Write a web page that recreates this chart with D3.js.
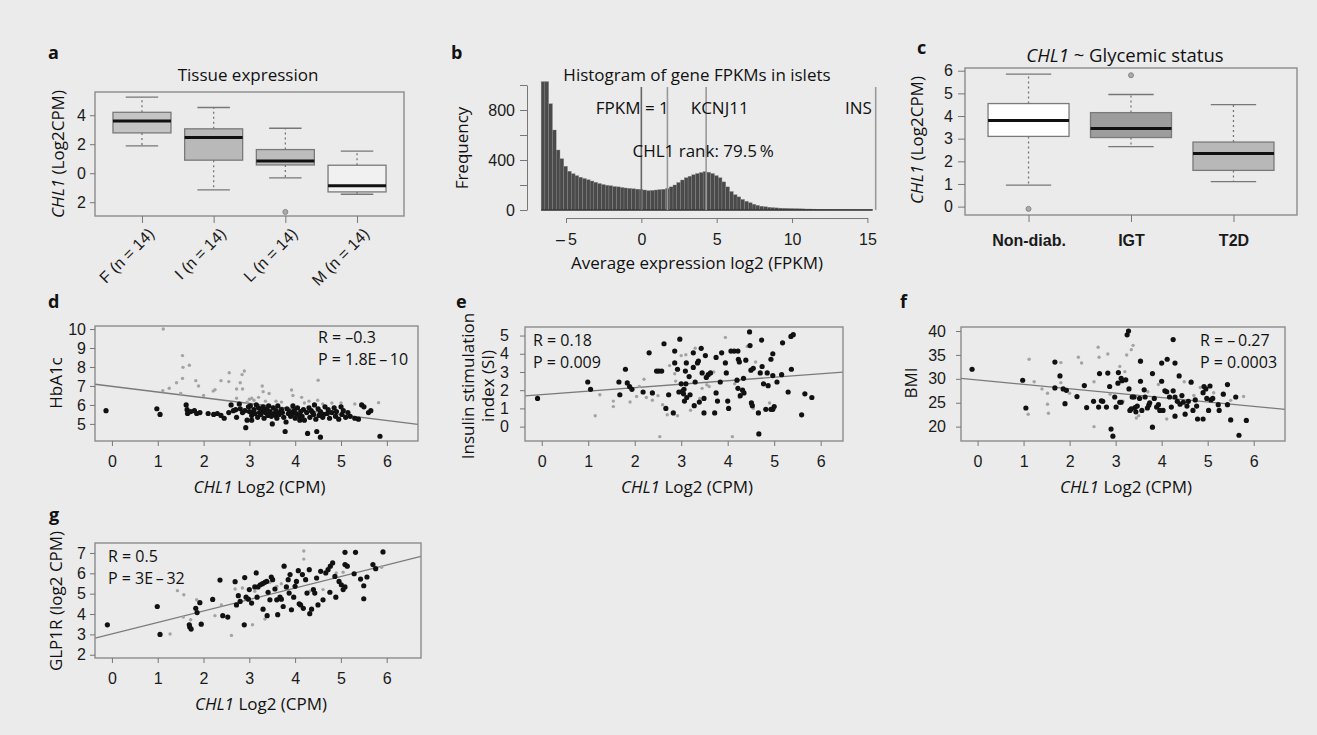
<!DOCTYPE html>
<html>
<head>
<meta charset="utf-8">
<script src="https://cdn.jsdelivr.net/npm/d3@7"></script>
<style>
  body { margin: 0; background: #fff; }
  svg { display: block; font-family: "Open Sans", sans-serif; }
  .tick text { font-size: 16px; fill: #1a1a1a; }
  .tick line { stroke: #777; }
  .domain { stroke: #777; }
</style>
</head>
<body>
<svg id="fig" width="1317" height="735"></svg>
<script>
// ---- data ----

// a: tissue expression, [lower whisker, Q1, median, Q3, upper whisker]
const tissueGroups = ["F (n = 14)", "I (n = 14)", "L (n = 14)", "M (n = 14)"];
const tissueStats = [[1.88, 2.78, 3.6, 4.2, 5.25], [-1.15, 0.9, 2.46, 3.06, 4.53],
  [-0.32, 0.57, 0.85, 1.63, 3.1], [-1.45, -1.29, -0.87, 0.55, 1.52]];
const tissueOutliers = [[], [], [-2.67], []];

// b: histogram of gene FPKMs (bins of 0.25 starting at -6.65)
const histStart = -6.65;
const histBin = 0.25;
const histFreq = [1027, 1027, 850, 640, 480, 410, 350, 310, 290, 275, 262, 252, 242, 232,
  222, 212, 204, 198, 194, 188, 185, 180, 176, 173, 170, 167, 165, 160, 155, 157, 160,
  163, 166, 172, 185, 200, 220, 240, 258, 270, 282, 292, 300, 307, 302, 292, 275, 258,
  225, 185, 148, 122, 105, 85, 70, 58, 46, 37, 30, 26, 22, 19, 17, 15, 14, 13, 12, 11,
  10, 9, 8, 8, 7, 6, 6, 5, 5, 4, 4, 4, 3, 3, 3, 3, 2, 2, 2, 2];
const markerNames = ["FPKM = 1", "CHL1", "KCNJ11", "INS"];
const markerX = [0, 1.73, 4.3, 15.55];

// c: glycemic status
const glyGroups = ["Non-diab.", "IGT", "T2D"];
const glyStats = [[0.95, 3.1, 3.8, 4.55, 5.85], [2.65, 3.05, 3.45, 4.15, 4.95],
  [1.1, 1.6, 2.35, 2.85, 4.5]];
const glyOutliers = [[-0.1], [5.8], []];

// d: HbA1c vs CHL1
const hbDark = [[-0.13,5.7],[0.98,5.8],[1.05,5.5],[1.62,6.0],[1.64,5.75],[1.65,5.55],[1.72,5.65],
  [1.8,5.7],[1.85,5.55],[1.92,5.6],[2.1,5.55],[2.22,5.5],[2.3,5.55],[2.38,5.45],[2.45,5.3],
  [2.55,5.6],[2.6,6.0],[2.65,5.7],[2.7,5.75],[2.72,5.35],[2.78,6.05],[2.8,5.8],[2.85,5.6],
  [2.9,5.7],[2.92,4.8],[2.95,5.2],[2.98,5.9],[3.0,5.65],[3.02,5.95],[3.05,5.45],[3.05,5.2],
  [3.08,5.6],[3.1,5.75],[3.12,5.55],[3.15,6.0],[3.18,5.35],[3.2,5.85],[3.22,5.6],[3.25,5.5],
  [3.28,5.7],[3.3,5.9],[3.32,5.3],[3.33,5.75],[3.35,5.6],[3.38,5.8],[3.4,5.45],[3.42,5.95],
  [3.45,5.65],[3.47,5.55],[3.48,5.4],[3.5,5.0],[3.52,5.85],[3.55,5.55],[3.58,5.7],[3.58,5.45],
  [3.6,5.3],[3.62,5.95],[3.65,5.5],[3.68,5.65],[3.7,5.75],[3.72,5.6],[3.75,5.35],[3.78,4.6],
  [3.8,5.1],[3.82,5.8],[3.85,5.55],[3.88,5.65],[3.9,5.4],[3.93,5.5],[3.95,5.95],[3.98,5.7],
  [4.0,5.3],[4.02,5.55],[4.05,5.85],[4.08,5.45],[4.1,5.2],[4.12,5.65],[4.15,5.4],[4.18,5.75],
  [4.2,5.2],[4.25,5.6],[4.27,4.5],[4.3,5.85],[4.32,5.35],[4.35,5.7],[4.38,5.6],[4.4,5.5],
  [4.42,6.0],[4.45,5.25],[4.47,4.6],[4.5,5.8],[4.52,5.45],[4.55,4.3],[4.55,5.65],[4.6,5.35],
  [4.62,5.5],[4.65,5.9],[4.7,5.55],[4.72,5.75],[4.75,5.3],[4.8,5.6],[4.85,5.85],[4.88,5.4],
  [4.9,5.65],[4.95,5.25],[5.0,5.9],[5.02,5.5],[5.05,5.7],[5.1,5.35],[5.15,5.6],[5.2,5.4],
  [5.3,5.3],[5.38,5.25],[5.45,6.0],[5.5,5.9],[5.6,5.6],[5.65,5.7],[5.85,4.35]];
const hbGray = [[1.12,10.0],[1.54,8.6],[1.55,7.98],[1.69,8.09],[1.54,7.4],[1.41,7.17],[1.25,6.88],
  [1.11,6.75],[1.83,7.28],[1.89,7.0],[2.21,6.73],[2.25,6.8],[2.38,7.28],[2.56,7.7],[2.55,7.23],
  [2.72,6.84],[2.8,7.17],[2.84,7.6],[2.89,7.79],[2.85,6.84],[2.72,6.35],[3.0,6.3],[3.05,6.35],
  [3.1,6.25],[3.28,7.0],[3.3,6.7],[3.43,6.6],[3.58,6.2],[3.92,6.79],[4.14,6.4],[4.5,7.3],
  [4.49,6.25],[4.6,6.05],[4.8,6.1],[5.0,6.1],[5.82,6.12],[3.2,6.4],[3.7,6.15],[3.95,6.5],
  [4.3,6.2],[2.95,6.15],[3.35,6.2],[4.2,6.1],[5.3,6.05],[1.5,6.6],[2.0,6.5]];
const hbFit = [6.98, -0.30];

// e: insulin stimulation index vs CHL1
const siDark = [[-0.09,1.55],[0.99,2.45],[1.05,2.05],[1.66,2.45],[1.68,1.75],[1.8,3.15],[1.84,2.4],
  [1.89,2.2],[1.94,2.05],[2.18,1.9],[2.31,4.05],[2.38,1.85],[2.47,3.05],[2.52,3.05],[2.58,3.05],
  [2.63,4.55],[2.67,1.0],[2.73,1.75],[2.83,0.75],[2.86,4.15],[2.86,3.5],[2.92,3.15],[2.97,4.8],
  [2.95,1.9],[3.0,2.35],[3.03,1.95],[3.05,1.8],[3.06,2.05],[3.07,1.4],[3.09,3.05],[3.1,2.35],
  [3.12,1.6],[3.11,3.5],[3.17,2.75],[3.19,1.75],[3.26,4.05],[3.26,3.25],[3.28,1.15],[3.3,2.45],
  [3.35,3.5],[3.37,3.6],[3.39,1.35],[3.43,4.3],[3.45,2.95],[3.49,0.75],[3.49,1.55],[3.52,3.9],
  [3.54,2.7],[3.58,2.85],[3.63,2.95],[3.72,0.75],[3.75,3.8],[3.75,1.85],[3.78,1.4],[3.84,2.45],
  [3.87,4.05],[3.95,3.5],[3.97,2.95],[4.0,1.4],[4.02,1.0],[4.07,4.15],[4.14,4.15],[4.22,4.15],
  [4.2,2.55],[4.22,2.1],[4.23,3.7],[4.25,3.55],[4.27,1.7],[4.32,2.0],[4.35,1.85],[4.34,2.65],
  [4.39,3.65],[4.47,5.2],[4.48,4.45],[4.5,3.1],[4.55,3.2],[4.51,1.3],[4.53,1.15],[4.66,0.75],
  [4.67,-0.4],[4.7,2.95],[4.74,3.3],[4.73,4.75],[4.77,2.35],[4.82,0.95],[4.85,2.95],[4.87,2.25],
  [4.93,0.95],[4.97,0.95],[5.0,1.1],[4.93,3.7],[4.97,4.0],[4.97,2.8],[5.06,2.45],[5.18,4.6],
  [5.16,2.85],[5.3,1.9],[5.37,3.15],[5.36,4.95],[5.41,5.05],[5.59,0.65],[5.66,1.8],[5.81,1.6]];
const siGray = [[1.15,0.6],[1.25,1.75],[1.54,1.4],[1.54,1.1],[1.9,1.35],[2.04,1.65],[2.1,2.2],
  [2.25,1.6],[2.38,1.45],[2.54,-0.55],[2.5,1.7],[2.6,1.2],[2.7,0.65],[2.86,2.9],[2.88,2.5],
  [2.92,0.6],[3.0,3.9],[3.1,3.95],[3.2,0.9],[3.4,1.55],[3.45,2.1],[3.55,2.3],[3.6,2.2],
  [3.95,4.9],[4.1,-0.55],[4.15,2.35],[4.25,1.6],[4.42,4.4],[4.6,3.55],[4.9,1.3],[4.95,0.9],
  [4.55,1.0],[3.7,3.0],[2.75,3.35],[3.3,4.3],[2.2,2.6]];
const siFit = [1.76, 0.19];

// f: BMI vs CHL1
const bmiDark = [[-0.12,32.0],[0.98,29.7],[1.05,23.9],[1.68,33.5],[1.68,28.1],[1.79,30.6],
  [1.86,27.9],[1.93,27.6],[1.9,24.8],[2.16,26.3],[2.32,28.6],[2.37,24.0],[2.52,25.3],[2.65,31.1],
  [2.63,24.1],[2.69,25.4],[2.72,25.3],[2.8,24.1],[2.83,31.2],[2.87,28.4],[2.9,19.5],[2.94,18.0],
  [2.98,26.2],[3.01,24.1],[3.05,29.1],[3.06,31.3],[3.09,25.1],[3.12,25.1],[3.12,30.1],[3.14,29.6],
  [3.22,29.8],[3.25,39.2],[3.28,40.0],[3.29,27.9],[3.31,23.4],[3.34,23.7],[3.36,26.2],[3.4,26.2],
  [3.42,24.0],[3.44,23.1],[3.47,24.3],[3.52,25.9],[3.54,33.7],[3.54,29.5],[3.57,23.4],
  [3.62,27.7],[3.64,26.2],[3.69,23.9],[3.72,24.5],[3.74,25.0],[3.8,31.1],[3.8,19.9],[3.84,25.9],
  [3.89,24.1],[3.93,24.6],[3.96,23.4],[4.0,29.5],[4.0,33.3],[4.03,23.4],[4.07,27.5],[4.11,27.3],
  [4.12,34.1],[4.17,26.2],[4.21,24.1],[4.25,38.2],[4.25,27.5],[4.29,26.2],[4.29,33.3],[4.29,22.2],
  [4.34,25.3],[4.4,24.7],[4.38,30.6],[4.44,26.5],[4.47,25.1],[4.51,22.6],[4.55,24.3],[4.58,25.3],
  [4.64,29.3],[4.68,23.4],[4.73,25.6],[4.76,24.3],[4.78,21.6],[4.9,21.6],[4.9,27.1],[4.92,28.4],
  [4.96,27.9],[4.98,25.9],[5.02,23.4],[5.05,28.5],[5.07,25.6],[5.11,25.9],[5.23,24.6],
  [5.25,23.4],[5.34,26.8],[5.43,28.8],[5.43,24.6],[5.5,21.4],[5.61,26.2],[5.68,18.2],[5.84,21.3]];
const bmiGray = [[1.12,34.1],[1.23,29.4],[1.1,22.6],[1.4,27.9],[1.52,27.0],[1.52,24.7],[1.54,22.8],
  [1.81,33.4],[1.81,29.2],[2.19,34.5],[2.26,33.3],[2.53,29.4],[2.53,20.0],[2.62,36.6],[2.64,34.5],
  [2.83,35.2],[2.88,26.8],[3.09,32.6],[3.16,25.3],[3.24,35.0],[3.34,36.1],[3.38,37.0],[3.45,21.8],
  [3.5,22.3],[3.93,28.8],[4.11,21.6],[4.49,29.4],[4.84,28.2],[5.13,27.1],[5.78,26.3],[5.5,25.5],
  [4.7,26.5],[3.7,27.3],[3.2,31.5],[2.0,27.0]];
const bmiFit = [29.77, -0.92];

// g: GLP1R vs CHL1
const glpDark = [[-0.1,3.47],[0.99,4.37],[1.05,3.0],[1.69,3.47],[1.7,3.36],[1.73,3.26],[1.83,4.28],
  [1.86,4.07],[1.92,4.56],[1.95,3.5],[2.2,4.72],[2.36,5.67],[2.42,3.92],[2.53,3.85],[2.69,5.59],
  [2.72,4.45],[2.76,4.9],[2.8,4.62],[2.89,3.47],[2.9,5.79],[2.93,4.83],[2.98,4.73],[3.0,5.2],
  [3.05,4.54],[3.12,5.33],[3.15,6.02],[3.17,4.83],[3.19,5.33],[3.24,5.44],[3.29,5.49],[3.3,4.24],
  [3.34,5.56],[3.38,5.6],[3.39,3.92],[3.41,5.07],[3.45,4.7],[3.48,5.82],[3.51,5.69],[3.56,5.23],
  [3.6,4.7],[3.62,3.97],[3.67,4.83],[3.7,4.73],[3.74,4.37],[3.76,6.35],[3.81,5.33],[3.85,5.69],
  [3.87,5.03],[3.89,5.94],[3.92,4.21],[3.97,4.83],[4.0,5.36],[4.03,5.6],[4.07,6.13],[4.09,4.5],
  [4.12,4.45],[4.16,5.94],[4.18,4.28],[4.23,5.69],[4.26,5.03],[4.31,6.18],[4.32,4.02],[4.36,4.24],
  [4.4,5.2],[4.43,5.03],[4.47,5.77],[4.5,4.45],[4.56,6.1],[4.61,4.7],[4.67,6.02],[4.72,6.18],
  [4.77,6.35],[4.82,6.51],[4.76,5.07],[4.87,5.85],[4.89,4.83],[4.96,5.6],[5.01,5.44],[5.05,5.2],
  [5.09,5.33],[5.09,7.03],[5.32,7.03],[5.09,6.43],[5.14,6.35],[5.29,5.98],[5.43,5.72],[5.5,5.39],
  [5.5,4.75],[5.57,5.82],[5.7,6.43],[5.76,6.23],[5.92,7.05]];
const glpGray = [[1.43,5.15],[1.57,4.95],[1.56,3.85],[1.27,3.02],[1.72,3.72],[1.85,4.7],[2.25,3.92],
  [2.39,4.45],[2.61,2.95],[2.69,5.23],[2.85,5.28],[3.07,3.47],[3.12,5.12],[3.34,3.75],[3.45,5.56],
  [3.6,5.36],[3.7,5.49],[3.94,4.21],[4.19,7.1],[4.19,6.7],[4.32,5.12],[4.54,6.1],[4.61,5.2],
  [4.9,6.02],[5.05,6.05],[5.89,6.3]];
const glpFit = [3.02, 0.565];

const chl1Ticks = [0, 1, 2, 3, 4, 5, 6];

// ---- drawing ----
const svg = d3.select("#fig");
svg.append("rect").attr("width", 1317).attr("height", 735).attr("fill", "#ebebeb");

function label(t, x, y, opts) {
  const o = opts || {};
  return svg.append("text").attr("x", x).attr("y", y)
    .attr("font-size", o.size || 17)
    .attr("font-weight", o.bold ? "bold" : null)
    .attr("text-anchor", o.anchor || "start")
    .attr("fill", "#111")
    .text(t);
}

// rotated axis title, parts = [[text, italic], ...]
function vTitle(parts, x, y) {
  const t = svg.append("text")
    .attr("transform", "translate(" + x + "," + y + ") rotate(-90)")
    .attr("text-anchor", "middle").attr("font-size", 17).attr("fill", "#111")
    .attr("dy", "0.35em");
  parts.forEach(p => t.append("tspan").attr("font-style", p[1] ? "italic" : null).text(p[0]));
  return t;
}

function hTitle(parts, x, y, size) {
  const t = svg.append("text").attr("x", x).attr("y", y)
    .attr("text-anchor", "middle").attr("font-size", size || 17).attr("fill", "#111");
  parts.forEach(p => t.append("tspan").attr("font-style", p[1] ? "italic" : null).text(p[0]));
  return t;
}

function frame(x0, y0, x1, y1) {
  svg.append("rect").attr("x", x0).attr("y", y0).attr("width", x1 - x0).attr("height", y1 - y0)
    .attr("fill", "none").attr("stroke", "#8c8c8c").attr("stroke-width", 1.4);
}

function boxPanel(o) {
  const x = d3.scalePoint().domain(o.groups).range([o.left, o.right]).padding(o.pad);
  const y = d3.scaleLinear().domain(o.yDomain).range([o.bottom, o.top]);
  const g = svg.append("g");
  o.stats.forEach((s, i) => {
    const cx = x(o.groups[i]);
    const hw = o.boxW / 2, cw = o.boxW * 0.28;
    g.append("line").attr("x1", cx).attr("x2", cx).attr("y1", y(s[3])).attr("y2", y(s[4]))
      .attr("stroke", "#777").attr("stroke-dasharray", "2,3").attr("stroke-width", 1.3);
    g.append("line").attr("x1", cx).attr("x2", cx).attr("y1", y(s[1])).attr("y2", y(s[0]))
      .attr("stroke", "#777").attr("stroke-dasharray", "2,3").attr("stroke-width", 1.3);
    [s[0], s[4]].forEach(v => g.append("line").attr("x1", cx - cw).attr("x2", cx + cw)
      .attr("y1", y(v)).attr("y2", y(v)).attr("stroke", "#777").attr("stroke-width", 1.3));
    g.append("rect").attr("x", cx - hw).attr("y", y(s[3])).attr("width", o.boxW)
      .attr("height", y(s[1]) - y(s[3])).attr("fill", o.fills[i])
      .attr("stroke", "#7a7a7a").attr("stroke-width", 1.3);
    g.append("line").attr("x1", cx - hw).attr("x2", cx + hw).attr("y1", y(s[2])).attr("y2", y(s[2]))
      .attr("stroke", "#111").attr("stroke-width", 3);
    o.outliers[i].forEach(v => g.append("circle").attr("cx", cx).attr("cy", y(v)).attr("r", 2.5)
      .attr("fill", "#aaa").attr("stroke", "#888"));
  });
  frame(o.left, o.top, o.right, o.bottom);
  const ya = svg.append("g").attr("transform", "translate(" + o.left + ",0)")
    .call(d3.axisLeft(y).tickValues(o.yTicks).tickSize(o.tick).tickPadding(o.ypad)
      .tickFormat(o.yFormat || d3.format("d")));
  ya.select(".domain").remove();
  const xa = svg.append("g").attr("transform", "translate(0," + o.bottom + ")")
    .call(d3.axisBottom(x).tickSize(7).tickPadding(13));
  xa.select(".domain").remove();
  return xa;
}

// ---- panel a ----
label("a", 48, 59, { bold: true, size: 18 });
hTitle([["Tissue expression", false]], 248, 81);
const xa = boxPanel({
  groups: tissueGroups, stats: tissueStats, outliers: tissueOutliers,
  fills: ["#c4c4c4", "#b9b9b9", "#bdbdbd", "#f1f1f1"],
  left: 95, right: 404, top: 92, bottom: 216, pad: 0.655, boxW: 58,
  yDomain: [-2.95, 5.6], yTicks: [-2, 0, 2, 4], tick: 5, ypad: 4, yFormat: d => Math.abs(d)
});
xa.selectAll(".tick text")
  .attr("text-anchor", "end").attr("y", 0)
  .attr("transform", "translate(6,12) rotate(-45)")
  .attr("dy", "0.6em");
vTitle([["CHL1", true], [" (Log2CPM)", false]], 58, 154);

// ---- panel b ----
label("b", 451, 59, { bold: true, size: 18 });
hTitle([["Histogram of gene FPKMs in islets", false]], 697, 81);
const hx = d3.scaleLinear().domain([-5, 15]).range([566, 867.4]);
const hy = d3.scaleLinear().domain([0, 1000]).range([210, 85]);
svg.append("g").selectAll("rect").data(histFreq).join("rect")
  .attr("x", (d, i) => hx(histStart + i * histBin))
  .attr("width", hx(histBin) - hx(0))
  .attr("y", d => hy(d))
  .attr("height", d => hy(0) - hy(d))
  .attr("fill", "#4a4a4a").attr("stroke", "#8a8a8a").attr("stroke-width", 0.35);
svg.append("line").attr("x1", hx(histStart)).attr("x2", hx(histStart + histFreq.length * histBin))
  .attr("y1", hy(0)).attr("y2", hy(0)).attr("stroke", "#333").attr("stroke-width", 1.5);
markerX.forEach((v, i) => svg.append("line").attr("x1", hx(v)).attr("x2", hx(v))
  .attr("y1", 87).attr("y2", hy(0))
  .attr("stroke", i === 0 ? "#666" : "#9a9a9a").attr("stroke-width", 1.6));
label(markerNames[0], hx(-0.6), 114, { anchor: "middle" });
label(markerNames[2], hx(5.2), 114, { anchor: "middle" });
label(markerNames[3], hx(15.3), 114, { anchor: "end" });
label(markerNames[1] + " rank: 79.5\u2009%", hx(4.1), 157, { anchor: "middle" });
svg.append("g").attr("transform", "translate(527,0)")
  .call(d3.axisLeft(hy).tickValues([0, 200, 400, 600, 800, 1000]).tickSize(7).tickPadding(5)
    .tickSizeOuter(0).tickFormat(d => d % 400 === 0 ? d : ""));
svg.append("g").attr("transform", "translate(0,218)")
  .call(d3.axisBottom(hx).tickValues([-5, 0, 5, 10, 15]).tickSize(5).tickPadding(11)
    .tickSizeOuter(0).tickFormat(d => d < 0 ? "\u2013\u2009" + (-d) : d));
vTitle([["Frequency", false]], 462, 148);
hTitle([["Average expression log2 (FPKM)", false]], 697, 269);

// ---- panel c ----
label("c", 917, 54, { bold: true, size: 18 });
hTitle([["CHL1", true], [" ~ Glycemic status", false]], 1125, 62, 18.5);
const xc = boxPanel({
  groups: glyGroups, stats: glyStats, outliers: glyOutliers,
  fills: ["#ffffff", "#9d9d9d", "#b8b8b8"],
  left: 965, right: 1297, top: 68, bottom: 215, pad: 0.62, boxW: 81,
  yDomain: [-0.37, 6.12], yTicks: [0, 1, 2, 3, 4, 5, 6], tick: 7, ypad: 5
});
xc.selectAll(".tick text").attr("font-weight", "bold").attr("font-size", 17);
vTitle([["CHL1", true], [" (Log2CPM)", false]], 917, 140);

// ---- scatter panels ----
function scatterPanel(o) {
  const x = d3.scaleLinear().domain(o.xDomain).range([o.left, o.right]);
  const y = d3.scaleLinear().domain(o.yDomain).range([o.bottom, o.top]);
  const g = svg.append("g");
  const clip = "clip" + o.id;
  svg.append("clipPath").attr("id", clip).append("rect")
    .attr("x", o.left).attr("y", o.top).attr("width", o.right - o.left).attr("height", o.bottom - o.top);
  const x0 = o.xDomain[0], x1 = o.xDomain[1];
  g.append("line").attr("clip-path", "url(#" + clip + ")")
    .attr("x1", x(x0)).attr("y1", y(o.fit[0] + o.fit[1] * x0))
    .attr("x2", x(x1)).attr("y2", y(o.fit[0] + o.fit[1] * x1))
    .attr("stroke", "#7a7a7a").attr("stroke-width", 1.3);
  g.selectAll("circle.gr").data(o.gray).join("circle").attr("class", "gr")
    .attr("cx", d => x(d[0])).attr("cy", d => y(d[1])).attr("r", 1.7).attr("fill", "#a3a3a3");
  g.selectAll("circle.dk").data(o.dark).join("circle").attr("class", "dk")
    .attr("cx", d => x(d[0])).attr("cy", d => y(d[1])).attr("r", 2.6).attr("fill", "#111");
  frame(o.left, o.top, o.right, o.bottom);
  const ya = svg.append("g").attr("transform", "translate(" + o.left + ",0)")
    .call(d3.axisLeft(y).tickValues(o.yTicks).tickSize(5).tickPadding(o.ypad)
      .tickFormat(d3.format("d")));
  ya.select(".domain").remove();
  const xa = svg.append("g").attr("transform", "translate(0," + o.bottom + ")")
    .call(d3.axisBottom(x).tickValues(chl1Ticks).tickSize(5).tickPadding(10)
      .tickFormat(d3.format("d")));
  xa.select(".domain").remove();
  hTitle([["CHL1", true], [" Log2 (CPM)", false]], (o.left + o.right) / 2 + 3, o.bottom + 52);
  label(o.stats[0], o.statX, o.statY, { size: 16 });
  label(o.stats[1], o.statX, o.statY + 22, { size: 16 });
}

// d
label("d", 48, 308, { bold: true, size: 18 });
scatterPanel({
  id: "d", dark: hbDark, gray: hbGray, fit: hbFit,
  left: 95, right: 418, top: 326, bottom: 441,
  xDomain: [-0.37, 6.68], yDomain: [4.1, 10.16], yTicks: [5, 6, 7, 8, 9, 10], ypad: 4,
  stats: ["R = \u20130.3", "P = 1.8E\u2009\u2013\u200910"], statX: 318, statY: 343
});
vTitle([["HbA1c", false]], 56, 383);

// e
label("e", 456, 308, { bold: true, size: 18 });
scatterPanel({
  id: "e", dark: siDark, gray: siGray, fit: siFit,
  left: 525, right: 843, top: 327, bottom: 441,
  xDomain: [-0.36, 6.48], yDomain: [-0.79, 5.47], yTicks: [0, 1, 2, 3, 4, 5], ypad: 11,
  stats: ["R = 0.18", "P = 0.009"], statX: 533, statY: 346
});
vTitle([["Insulin stimulation", false]], 468, 386);
vTitle([["index (SI)", false]], 488, 386);

// f
label("f", 900, 308, { bold: true, size: 18 });
scatterPanel({
  id: "f", dark: bmiDark, gray: bmiGray, fit: bmiFit,
  left: 961, right: 1285, top: 327, bottom: 441,
  xDomain: [-0.36, 6.68], yDomain: [17.0, 40.84], yTicks: [20, 25, 30, 35, 40], ypad: 10,
  stats: ["R = \u2013\u20090.27", "P = 0.0003"], statX: 1200, statY: 346
});
vTitle([["BMI", false]], 911, 383);

// g
label("g", 49, 521, { bold: true, size: 18 });
scatterPanel({
  id: "g", dark: glpDark, gray: glpGray, fit: glpFit,
  left: 95, right: 421, top: 543, bottom: 658,
  xDomain: [-0.37, 6.75], yDomain: [1.84, 7.49], yTicks: [2, 3, 4, 5, 6, 7], ypad: 4,
  stats: ["R = 0.5", "P = 3E\u2009\u2013\u200932"], statX: 108, statY: 562
});
vTitle([["GLP1R (log2 CPM)", false]], 56, 601);
</script>
</body>
</html>
